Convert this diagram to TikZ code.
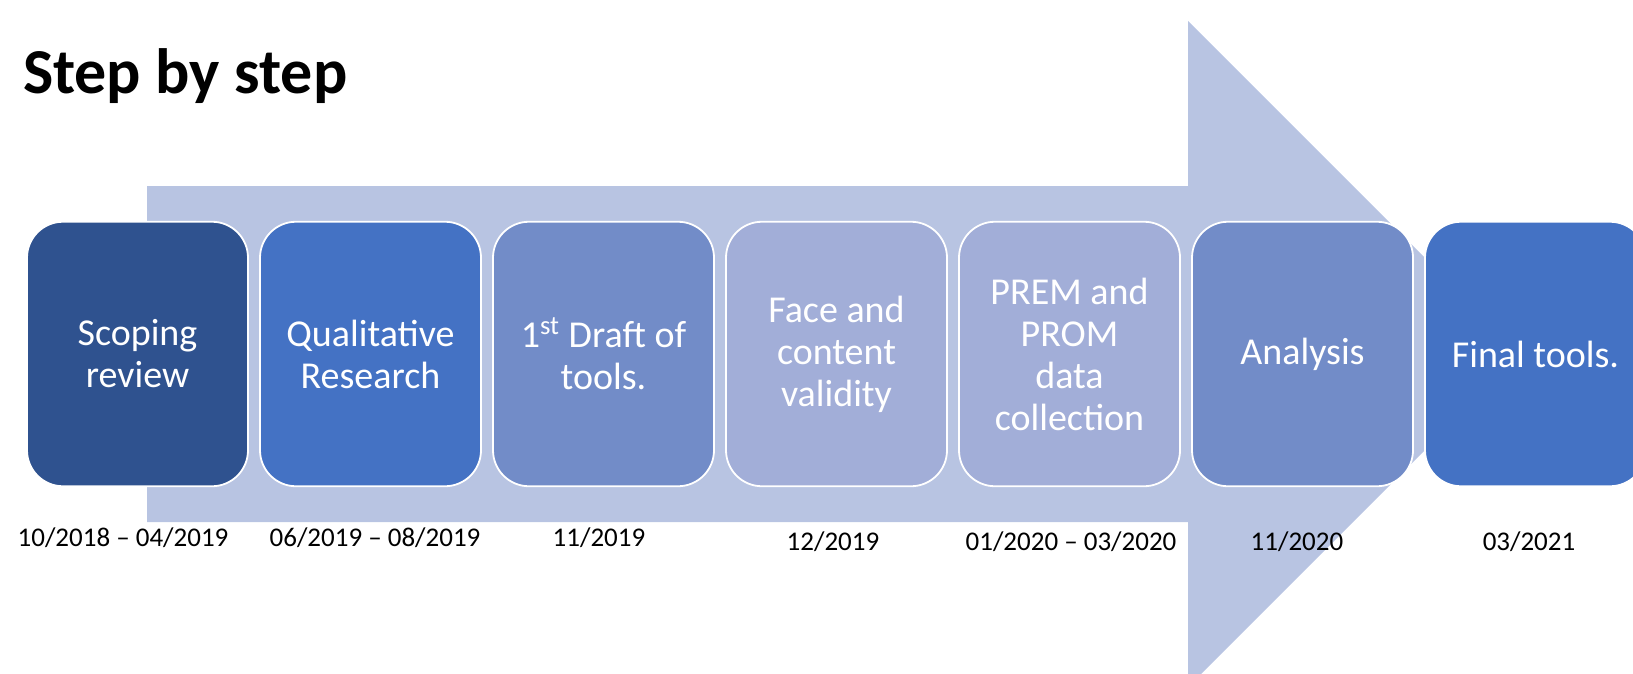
\documentclass[tikz,border=0pt]{standalone}
\usepackage{fontspec}
\setmainfont{Carlito}

\definecolor{arrowfill}{RGB}{184,196,226}
\definecolor{stepdark}{RGB}{47,82,143}
\definecolor{stepblue}{RGB}{68,114,196}
\definecolor{stepmid}{RGB}{114,140,200}
\definecolor{steplight}{RGB}{162,174,216}

\begin{document}
\begin{tikzpicture}[x=0.5pt,y=-0.5pt,
	stage/.style={draw=white,line width=0.9pt,rounded corners=18pt,
		minimum width=110.5pt,minimum height=132.25pt,inner sep=0pt,
		align=center,text=white,font=\fontsize{19}{21}\selectfont},
	date/.style={anchor=base,font=\fontsize{13.5}{16}\selectfont}]
		
		\path[use as bounding box] (0,0) rectangle (1633,674);
		\clip (0,0) rectangle (1633,674);
		
		% big arrow behind the stages
		\fill[arrowfill] (147,186) -- (1188,186) -- (1188,21) -- (1521,354)
		-- (1188,687) -- (1188,522) -- (147,522) -- cycle;
		
		\node[anchor=base west,font=\bfseries\fontsize{32}{36}\selectfont] (title) at (16,94) {Step by step};
		
		\node[stage,fill=stepdark] (scoping) at (137.5,354) {Scoping\\review};
		\node[stage,fill=stepblue] (quali) at (370.5,354) {Qualitative\\Research};
		\node[stage,fill=stepmid] (draft) at (603.5,354) {1\textsuperscript{st} Draft of\\tools.};
		\node[stage,fill=steplight] (face) at (836.5,354) {Face and\\content\\validity};
		\node[stage,fill=steplight] (prem) at (1069.5,354) {PREM and\\PROM\\data\\collection};
		\node[stage,fill=stepmid] (analysis) at (1302.5,354) {Analysis};
		\node[stage,fill=stepblue] (final) at (1535.5,354) {Final tools.};
		
		% dates under each stage
		\node[date] (dscoping) at (123,546) {10/2018 -- 04/2019};
		\node[date] (dquali) at (375,546) {06/2019 -- 08/2019};
		\node[date] (ddraft) at (599,546) {11/2019};
		\node[date] (dface) at (833,550) {12/2019};
		\node[date] (dprem) at (1071,550) {01/2020 -- 03/2020};
		\node[date] (danalysis) at (1297,550) {11/2020};
		\node[date] (dfinal) at (1529,550) {03/2021};
		\end{tikzpicture}
\end{document}
